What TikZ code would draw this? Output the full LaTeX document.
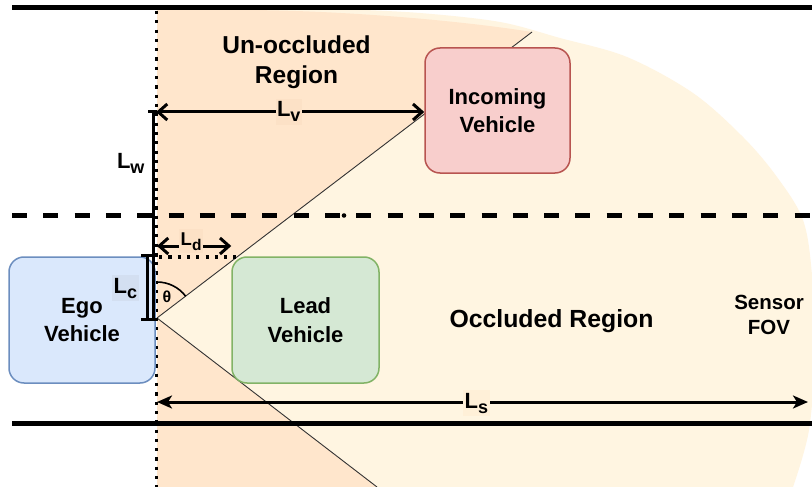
\documentclass[tikz,border=0pt]{standalone}
\usepackage{fontspec}
\setmainfont{Liberation Sans}
\usetikzlibrary{arrows.meta}

\definecolor{egofill}{HTML}{DAE8FC}
\definecolor{egoline}{HTML}{6C8EBF}
\definecolor{leadfill}{HTML}{D5E8D4}
\definecolor{leadline}{HTML}{82B366}
\definecolor{incfill}{HTML}{F8CECC}
\definecolor{incline}{HTML}{B85450}
\definecolor{unocc}{HTML}{FFE6CC}
\definecolor{fovfill}{HTML}{FFF5E1}
\definecolor{tagorange}{HTML}{FCE1C6}
\definecolor{tagcream}{HTML}{FFF0D8}
\definecolor{tagblue}{HTML}{D3DFF1}

% L with a lowered subscript: size, subscript size, drop (pt), subscript
\newcommand{\Lname}[4]{\fontsize{#1}{#1}\selectfont L\raisebox{-#3pt}{\fontsize{#2}{#2}\selectfont #4}}

\begin{document}
\begin{tikzpicture}[x=1pt,y=-1pt,
  vehicle/.style={draw, line width=1.5pt, rounded corners=15pt, align=center,
    font=\bfseries\fontsize{22}{28.5}\selectfont, inner sep=0pt},
  road/.style={line width=5pt},
  sightline/.style={line width=0.9pt, black!80},
  dimline/.style={line width=3pt},
  dotline/.style={line width=3.2pt, dash pattern=on 3.2pt off 6.1pt},
  barbs/.style={{Straight Barb[length=9pt,width=16pt]}-{Straight Barb[length=9pt,width=16pt]}},
  stealths/.style={{Stealth[length=15pt,width=13pt,inset=4pt]}-{Stealth[length=15pt,width=13pt,inset=4pt]}},
  dimtag/.style={font=\bfseries, anchor=base west, inner xsep=1.5pt, inner ysep=3pt},
  regiontext/.style={font=\bfseries\fontsize{24.5}{29.5}\selectfont, align=center, inner sep=0pt}
]
\useasboundingbox (0,0) rectangle (812,487);
\fill[white] (0,0) rectangle (812,487);

% sensor origin and sight lines past the lead vehicle
\coordinate (eye) at (157,318);
\coordinate (upEnd) at (532,32);
\coordinate (lowEnd) at (377,487);

\begin{scope}
  \clip (0,0) rectangle (812,487);
  % sensor field of view
  \fill[fovfill] (157,10) -- (300,8.5) -- plot[smooth, tension=0.55] coordinates {
      (340,9) (420,13) (500,22) (560,38) (627,57) (693,93) (743,137)
      (777,177) (803,220) (812,275) (815,350) (809,430) (793,487)}
    -- (157,487) -- cycle;
  % un-occluded parts of the field of view
  \fill[unocc] (157,10) -- (240,10) .. controls (330,10) and (450,19) .. (upEnd)
    -- (eye) -- cycle;
  \fill[unocc] (eye) -- (lowEnd) -- (157,487) -- cycle;
\end{scope}

\draw[sightline] (eye) -- (upEnd);
\draw[sightline] (eye) -- (lowEnd);

% road edges and lane divider
\coordinate (topL) at (12,7.5);   \coordinate (topR) at (812,7.5);
\coordinate (midL) at (12,215.5); \coordinate (midR) at (812,215.5);
\coordinate (botL) at (12,423);   \coordinate (botR) at (812,423);
\draw[road] (topL) -- (topR);
\draw[road, dash pattern=on 15pt off 16.3pt] (midL) -- (midR);
\draw[road] (botL) -- (botR);
\node[circle, fill=black, inner sep=0pt, minimum size=4.6pt] (kink) at (344,215.5) {};

% front of the ego vehicle
\coordinate (frontTop) at (156.5,11);
\coordinate (frontBot) at (156.5,487);
\draw[dotline] (frontTop) -- (frontBot);

% vehicles
\node[vehicle, fill=egofill, draw=egoline, minimum width=146pt, minimum height=126pt]
  (ego) at (82,320) {Ego\\Vehicle};
\node[vehicle, fill=leadfill, draw=leadline, minimum width=147pt, minimum height=126pt]
  (lead) at (305.5,320) {Lead\\Vehicle};
\node[vehicle, fill=incfill, draw=incline, minimum width=145pt, minimum height=125pt]
  (inc) at (497.5,110.5) {Incoming\\Vehicle};

% lane width and sensor offset
\coordinate (lwTop) at (153,112);
\coordinate (lcTop) at (153,255);
\coordinate (lcBot) at (153,319.5);
\coordinate (lcTopIn) at (147,255);
\coordinate (lcBotIn) at (147,319.5);
\draw[dimline] (lwTop) -- (lcBot);
\draw[dimline] (lcTopIn) -- (lcBotIn);
\draw[dimline] ([xshift=-5pt]lwTop) -- ([xshift=4pt]lwTop);
\draw[dimline] ([xshift=-12pt]lcTop) -- ([xshift=5pt]lcTop);
\draw[dimline] ([xshift=-12pt]lcBot) -- ([xshift=5pt]lcBot);

% gap to the lead vehicle
\coordinate (ldL) at (157,246);
\draw[dimline, barbs] (ldL) -- (ldL -| lead.west);
\coordinate (gapL) at (159,257);
\coordinate (gapR) at (236,257);
\draw[dotline] (gapL) -- (gapR);

% distance to the incoming vehicle
\coordinate (lvL) at (156,112);
\draw[dimline, barbs] (lvL) -- (lvL -| inc.west);

% sensor range
\coordinate (lsL) at (157,402);
\coordinate (lsR) at (808,402);
\draw[dimline, stealths] (lsL) -- (lsR);

% view angle
\draw[line width=1.6pt] (eye) ++(0,-36) arc[start angle=-90, end angle=-37.3, radius=36];
\node[font=\bfseries\fontsize{16}{16}\selectfont, inner sep=0pt] (theta) at (167,297) {θ};

% dimension labels
\node[dimtag, fill=tagorange] (lvTag) at (275.3,116.7) {\Lname{22}{18}{5}{v}};
\node[dimtag] (lwTag) at (115.3,168.3) {\Lname{22}{18}{5}{w}};
\node[dimtag, fill=tagblue] (lcTag) at (112,293.3) {\Lname{22}{18}{5}{c}};
\node[dimtag, fill=tagorange] (ldTag) at (179,245) {\Lname{18.5}{15.5}{5}{d}};
\node[dimtag, fill=tagcream] (lsTag) at (463,408.3) {\Lname{22}{18}{5}{s}};

% region names
\node[regiontext] (unoccText) at (296.5,62) {Un-occluded\\Region};
\node[regiontext, font=\bfseries\fontsize{24.8}{29}\selectfont, anchor=base]
  (occText) at (551.5,327.3) {Occluded Region};
\node[regiontext, font=\bfseries\fontsize{20.5}{25}\selectfont]
  (fovText) at (769,315) {Sensor\\FOV};
\end{tikzpicture}
\end{document}
